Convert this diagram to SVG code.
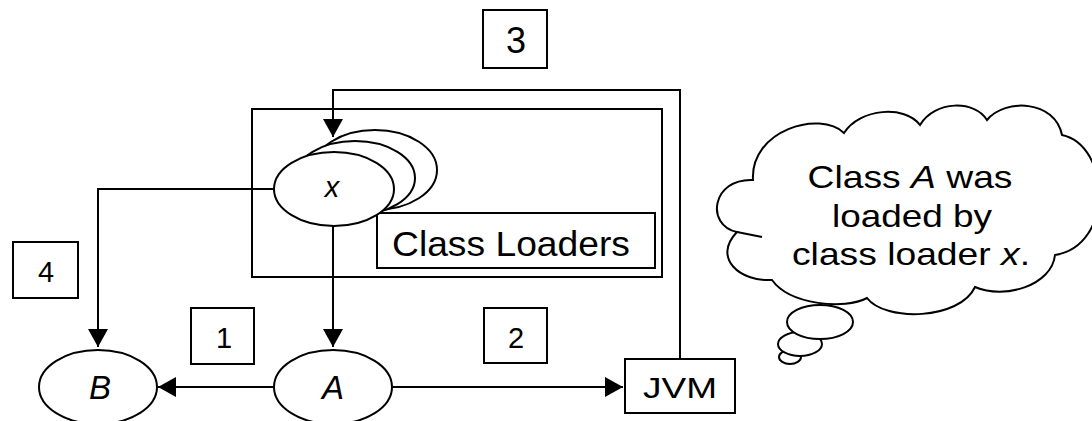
<svg xmlns="http://www.w3.org/2000/svg" width="1092" height="421" viewBox="0 0 1092 421">
  <style>
    .ln { fill: none; stroke: #000; stroke-width: 2; }
    .shape { fill: #fff; stroke: #000; stroke-width: 2; }
    .txt { font-family: "Liberation Sans", Arial, sans-serif; fill: #000; }
    .it { font-style: italic; }
    .mid { text-anchor: middle; }
  </style>
  <defs>
    <marker id="arrow" markerUnits="userSpaceOnUse" markerWidth="20" markerHeight="20" viewBox="0 0 18 20" refX="18" refY="10" orient="auto">
      <path d="M0,0 L18,10 L0,20 Z" fill="#000"/>
    </marker>
  </defs>

  <!-- step number labels -->
  <g id="step3">
    <rect class="shape" x="483" y="10" width="64" height="58"/>
    <text class="txt mid" x="516" y="53" font-size="36">3</text>
  </g>
  <g id="step4">
    <rect class="shape" x="13" y="242" width="65" height="56"/>
    <text class="txt mid" x="46" y="282" font-size="29">4</text>
  </g>
  <g id="step1">
    <rect class="shape" x="191" y="308" width="63" height="56"/>
    <text class="txt mid" x="224" y="348" font-size="29">1</text>
  </g>
  <g id="step2">
    <rect class="shape" x="484" y="308" width="63" height="55"/>
    <text class="txt mid" x="516" y="348" font-size="29">2</text>
  </g>

  <!-- class loader container -->
  <g id="loader-area">
    <rect class="ln" x="252" y="109" width="410" height="168"/>
  </g>
  <g id="loaders-label">
    <rect class="shape" x="377" y="213" width="278" height="55"/>
    <text class="txt" x="392" y="256" font-size="35" textLength="238" lengthAdjust="spacingAndGlyphs">Class Loaders</text>
  </g>

  <!-- stack of class loaders, x in front -->
  <g id="loader-x">
    <ellipse class="shape" cx="375" cy="170" rx="62" ry="40"/>
    <ellipse class="shape" cx="355" cy="178" rx="60" ry="37"/>
    <ellipse class="shape" cx="334" cy="189" rx="60" ry="37"/>
    <text class="txt it mid" x="332" y="197" font-size="29">x</text>
  </g>

  <g id="node-B">
    <ellipse class="shape" cx="98" cy="387" rx="59" ry="37"/>
    <text class="txt it mid" x="100" y="399" font-size="33">B</text>
  </g>
  <g id="node-A">
    <ellipse class="shape" cx="333" cy="387" rx="59" ry="37"/>
    <text class="txt it mid" x="333" y="399" font-size="33">A</text>
  </g>
  <g id="node-JVM">
    <rect class="shape" x="625" y="359" width="110" height="54"/>
    <text class="txt" x="643" y="398" font-size="30" textLength="74" lengthAdjust="spacingAndGlyphs">JVM</text>
  </g>

  <!-- connectors -->
  <g id="connectors">
    <path class="ln" d="M680,359 V90 H333 V137" marker-end="url(#arrow)"/>
    <path class="ln" d="M274,189 H98 V347" marker-end="url(#arrow)"/>
    <path class="ln" d="M333,226 V347" marker-end="url(#arrow)"/>
    <path class="ln" d="M274,387 H158" marker-end="url(#arrow)"/>
    <path class="ln" d="M392,387 H623" marker-end="url(#arrow)"/>
  </g>

  <!-- thought cloud -->
  <g id="thought">
    <path class="shape" d="M737,232
      C705,225 712,178 753,180
      C750,130 820,110 844,133
      C860,108 905,105 920,125
      C935,100 975,100 987,120
      C1005,98 1055,100 1062,135
      C1110,145 1115,245 1055,255
      C1052,285 1005,300 975,287
      C960,320 885,322 867,298
      C845,310 790,305 772,280
      C740,282 712,258 737,232 Z"/>
    <path class="ln" d="M737,232 L762,237"/>
    <ellipse class="shape" cx="790" cy="357" rx="11" ry="7"/>
    <ellipse class="shape" cx="800" cy="344" rx="22" ry="12"/>
    <ellipse class="shape" cx="820" cy="322" rx="33" ry="17"/>
    <text class="txt mid" x="910" y="188" font-size="32" textLength="205" lengthAdjust="spacingAndGlyphs">Class <tspan class="it">A</tspan> was</text>
    <text class="txt mid" x="912" y="227" font-size="32" textLength="160" lengthAdjust="spacingAndGlyphs">loaded by</text>
    <text class="txt mid" x="911" y="265" font-size="32" textLength="238" lengthAdjust="spacingAndGlyphs">class loader <tspan class="it">x</tspan>.</text>
  </g>
</svg>
